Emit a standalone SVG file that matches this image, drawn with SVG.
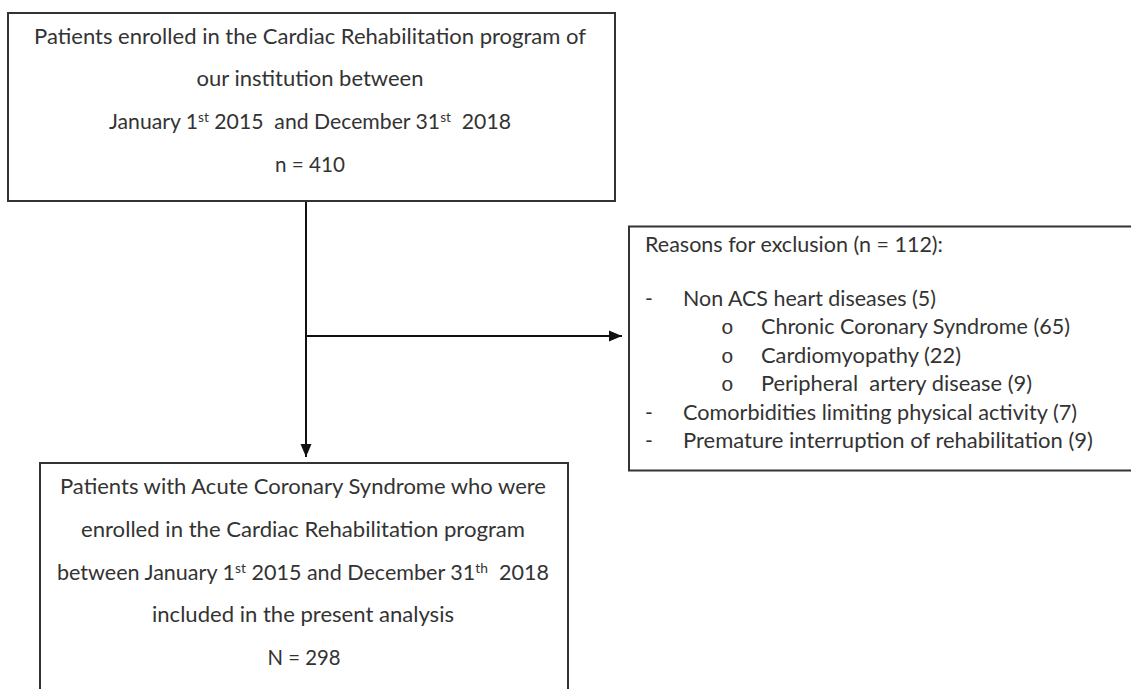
<svg xmlns="http://www.w3.org/2000/svg" width="1131" height="689" viewBox="0 0 1131 689">
<style>
  .box { fill: #ffffff; stroke: #333333; stroke-width: 2; }
  .t { font-family: Lato, "Open Sans", "Liberation Sans", sans-serif; font-size: 21px; fill: #333333; }
  .c { text-anchor: middle; }
  .b { font-family: "Liberation Mono", "DejaVu Sans Mono", monospace; font-size: 21px; fill: #333333; }
  .sup { font-size: 13.5px; baseline-shift: 7.5px; }
  .edge { stroke: #111111; stroke-width: 2; fill: none; }
</style>
<defs>
  <marker id="arrow" markerUnits="userSpaceOnUse" markerWidth="14" markerHeight="12" refX="13" refY="6" orient="auto">
    <path d="M0,0.5 L13,6 L0,11.5 Z" fill="#111111"/>
  </marker>
</defs>
<rect width="1131" height="689" fill="#ffffff"/>

<g id="connectors">
  <line class="edge" x1="306" y1="201" x2="306" y2="457" marker-end="url(#arrow)"/>
  <line class="edge" x1="306" y1="336" x2="622" y2="336" marker-end="url(#arrow)"/>
</g>

<g id="enrolled">
  <rect class="box" x="8" y="13" width="607" height="188"/>
  <text class="t c" x="310" y="43.5" textLength="552" lengthAdjust="spacingAndGlyphs">Patients enrolled in the Cardiac Rehabilitation program of</text>
  <text class="t c" x="310" y="86.3" textLength="227" lengthAdjust="spacingAndGlyphs">our institution between</text>
  <text class="t c" x="310" y="129.1" textLength="402" lengthAdjust="spacingAndGlyphs" xml:space="preserve">January 1<tspan class="sup">st</tspan> 2015  and December 31<tspan class="sup">st</tspan>  2018</text>
  <text class="t c" x="310" y="171.9" textLength="70" lengthAdjust="spacingAndGlyphs">n = 410</text>
</g>

<g id="exclusion">
  <rect class="box" x="629" y="226.5" width="520" height="244"/>
  <text class="t" x="645" y="252" textLength="298" lengthAdjust="spacingAndGlyphs">Reasons for exclusion (n = 112):</text>
  <text class="t" x="645" y="305.5">-</text>
  <text class="t" x="683" y="305.5" textLength="253" lengthAdjust="spacingAndGlyphs">Non ACS heart diseases (5)</text>
  <text class="b" x="721" y="334">o</text>
  <text class="t" x="761" y="334" textLength="309" lengthAdjust="spacingAndGlyphs">Chronic Coronary Syndrome (65)</text>
  <text class="b" x="721" y="362.5">o</text>
  <text class="t" x="761" y="362.5" textLength="200" lengthAdjust="spacingAndGlyphs">Cardiomyopathy (22)</text>
  <text class="b" x="721" y="391">o</text>
  <text class="t" x="761" y="391" textLength="271" lengthAdjust="spacingAndGlyphs" xml:space="preserve">Peripheral  artery disease (9)</text>
  <text class="t" x="645" y="419.5">-</text>
  <text class="t" x="683" y="419.5" textLength="394" lengthAdjust="spacingAndGlyphs">Comorbidities limiting physical activity (7)</text>
  <text class="t" x="645" y="448">-</text>
  <text class="t" x="683" y="448" textLength="410" lengthAdjust="spacingAndGlyphs">Premature interruption of rehabilitation (9)</text>
</g>

<g id="included">
  <rect class="box" x="40" y="463" width="528" height="260"/>
  <text class="t c" x="303" y="494" textLength="486" lengthAdjust="spacingAndGlyphs">Patients with Acute Coronary Syndrome who were</text>
  <text class="t c" x="303" y="536.8" textLength="444" lengthAdjust="spacingAndGlyphs">enrolled in the Cardiac Rehabilitation program</text>
  <text class="t c" x="303" y="579.6" textLength="492" lengthAdjust="spacingAndGlyphs" xml:space="preserve">between January 1<tspan class="sup">st</tspan> 2015 and December 31<tspan class="sup">th</tspan>  2018</text>
  <text class="t c" x="303" y="622.4" textLength="302" lengthAdjust="spacingAndGlyphs">included in the present analysis</text>
  <text class="t c" x="304" y="665.2" textLength="73" lengthAdjust="spacingAndGlyphs">N = 298</text>
</g>
</svg>
